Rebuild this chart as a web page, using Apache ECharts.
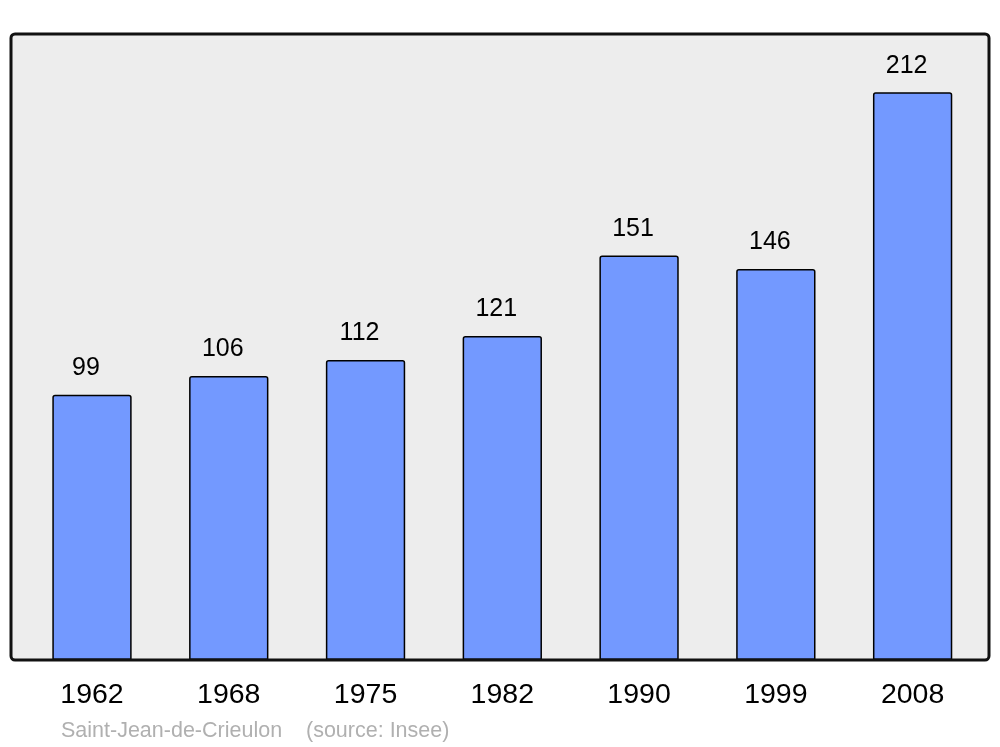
<!DOCTYPE html>
<html><head><meta charset="utf-8">
<script src="https://cdn.jsdelivr.net/npm/echarts@6/dist/echarts.min.js"></script>
<style>html,body{margin:0;padding:0;background:#fff}#c{width:1000px;height:747px}</style>
</head><body><div id="c"></div>
<script>
const years = ['1962','1968','1975','1982','1990','1999','2008'];
const population = [99,106,112,121,151,146,212];
const commune = 'Saint-Jean-de-Crieulon';
const source = '(source: Insee)';

const chart = echarts.init(document.getElementById('c'), null, {renderer:'canvas'});
chart.setOption({
  animation:false,
  backgroundColor:'#ffffff',
  textStyle:{fontFamily:'Liberation Sans'},
  grid:{left:23.6, right:19, top:34, bottom:87, containLabel:false},
  xAxis:{type:'category', data:years,
    axisLine:{show:false}, axisTick:{show:false},
    axisLabel:{fontSize:28.5, color:'#000', margin:21, fontFamily:'Liberation Sans'}},
  yAxis:{type:'value', min:0, max:233.7, show:false, splitLine:{show:false}},
  graphic:[
    {type:'rect', z:-10, shape:{x:11,y:34,width:978,height:626,r:4}, style:{fill:'#ededed', stroke:null}},
    {type:'rect', z:100, shape:{x:11,y:34,width:978,height:626,r:4}, style:{fill:'none', stroke:'#111', lineWidth:3}},
    {type:'text', z:100, left:61, top:720, style:{text:commune, fill:'#b0b0b0', font:'21.5px "Liberation Sans"'}},
    {type:'text', z:100, left:306, top:720, style:{text:source, fill:'#b0b0b0', font:'21.5px "Liberation Sans"'}}
  ],
  series:[{type:'bar', data:population, barCategoryGap:'42%',
    itemStyle:{color:'#7399ff', borderColor:'#000', borderWidth:1.5, borderRadius:[2,2,0,0]},
    label:{show:true, position:'top', distance:14, offset:[-6,0], fontSize:25, color:'#000', fontFamily:'Liberation Sans'}
  }]
});
</script></body></html>
